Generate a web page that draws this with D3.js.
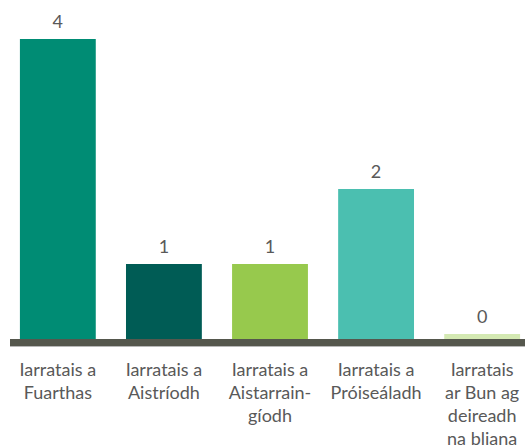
<!DOCTYPE html>
<html>
<head>
<meta charset="utf-8">
<script src="https://cdn.jsdelivr.net/npm/d3@7"></script>
<style>
  body { margin: 0; background: #fff; }
  text { font-family: Lato, "Open Sans", sans-serif; fill: #595959; }
</style>
</head>
<body>
<svg id="chart"></svg>
<script>
var categories = [
    ["Iarratais a", "Fuarthas"],
    ["Iarratais a", "Aistríodh"],
    ["Iarratais a", "Aistarrain-", "gíodh"],
    ["Iarratais a", "Próiseáladh"],
    ["Iarratais", "ar Bun ag", "deireadh", "na bliana"]
];
var values = [4, 1, 1, 2, 0];
var colors = ["#008c74", "#005c55", "#97c94d", "#4bbfb0", "#d4e9b3"];

var width = 525,
    height = 448,
    baseY = 339;

var svg = d3.select("#chart")
    .attr("width", width)
    .attr("height", height);

var x = d3.scaleBand()
    .domain(d3.range(values.length))
    .range([4, 536])
    .paddingInner(0.285)
    .paddingOuter(0.15);

var y = d3.scaleLinear()
    .domain([0, 4])
    .range([baseY, 39]);

var bars = svg.selectAll("g.bar")
    .data(values)
    .enter().append("g")
    .attr("class", "bar");

bars.append("rect")
    .attr("x", function (d, i) { return x(i); })
    .attr("width", x.bandwidth())
    .attr("y", function (d) { return Math.min(y(d), baseY - 5); })
    .attr("height", function (d) { return Math.max(baseY - y(d), 5); })
    .attr("fill", function (d, i) { return colors[i]; });

bars.append("text")
    .attr("x", function (d, i) { return x(i) + x.bandwidth() / 2; })
    .attr("y", function (d) { return Math.min(y(d), baseY - 5) - 11; })
    .attr("text-anchor", "middle")
    .style("font-size", "18px")
    .text(function (d) { return d; });

// axis line
svg.append("rect")
    .attr("x", 10)
    .attr("y", baseY)
    .attr("width", width - 10)
    .attr("height", 7)
    .attr("fill", "#55574d");
svg.append("rect")
    .attr("x", 10)
    .attr("y", baseY + 7)
    .attr("width", width - 10)
    .attr("height", 1)
    .attr("fill", "#b8b8b8");

var labels = svg.selectAll("text.cat")
    .data(categories)
    .enter().append("text")
    .attr("class", "cat")
    .attr("text-anchor", "middle")
    .style("font-size", "18px");

labels.selectAll("tspan")
    .data(function (d, i) { return d.map(function (s) { return { s: s, i: i }; }); })
    .enter().append("tspan")
    .attr("x", function (d) { return x(d.i) + x.bandwidth() / 2; })
    .attr("y", function (d, j) { return 376 + j * 23; })
    .text(function (d) { return d.s; });
</script>
</body>
</html>
